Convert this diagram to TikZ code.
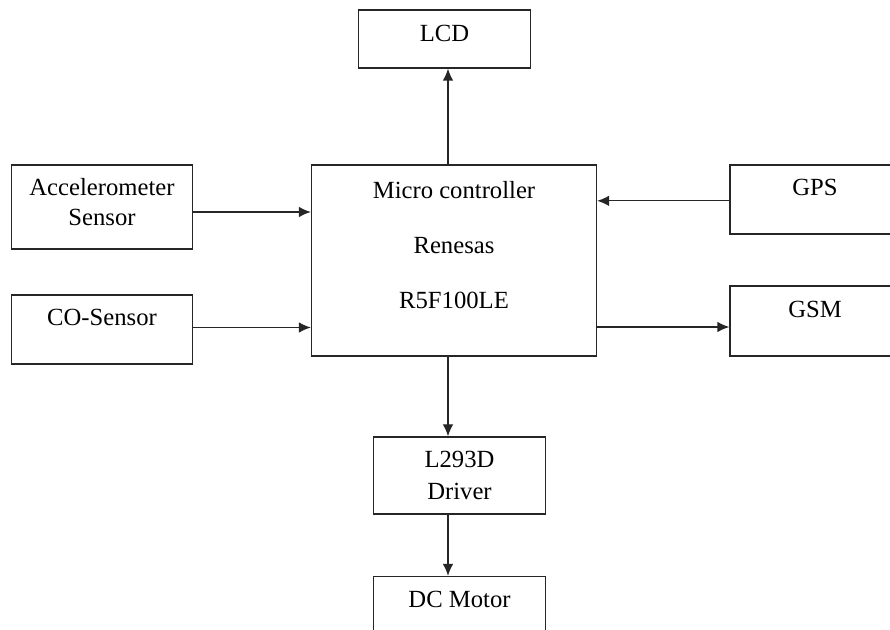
\documentclass[tikz,border=0pt]{standalone}
\usepackage{fontspec}
\setmainfont{Liberation Serif}
\usetikzlibrary{arrows.meta}

\tikzset{
  block/.style = {draw=black!85, line width=1pt, inner sep=0pt, align=center},
  topline/.style = {text depth=18pt},
  arr/.style = {line width=1pt, draw=black!85, -{Latex[length=9pt,width=8pt]}}
}

\begin{document}
\begin{tikzpicture}[x=0.75pt, y=-0.75pt, font=\fontsize{18.5}{22.5}\selectfont]

\clip (0,0) rectangle (890,630);

% blocks
\node[block, minimum width=129pt, minimum height=43.5pt, text depth=9pt] (lcd) at (444.5,39) {LCD};
\node[block, minimum width=213.75pt, minimum height=143.25pt, text depth=23pt] (mc) at (454,260.5)
  {Micro controller\\[18.75pt]Renesas\\[18.75pt]R5F100LE};
\node[block, minimum width=135.4pt, minimum height=63pt, text depth=7.5pt] (acc) at (102,207)
  {Accelerometer\\Sensor};
\node[block, topline, minimum width=135.4pt, minimum height=51.75pt] (cos) at (102,329.5) {CO-Sensor};
% right hand blocks run past the edge of the picture
\node[block, topline, minimum width=157.5pt, minimum height=51.75pt] (gps) at (835,199.5) {GPS\hspace*{30pt}};
\node[block, topline, minimum width=157.5pt, minimum height=52.5pt] (gsm) at (835,321) {GSM\hspace*{30pt}};
\node[block, minimum width=129pt, minimum height=57.75pt] (drv) at (459.5,475.5) {L293D\\[2pt]Driver};
\node[block, topline, minimum width=129pt, minimum height=52.5pt] (dcm) at (459.5,611.5) {DC Motor};

% connections
\draw[arr] (mc.north -| 448,0) -- (lcd.south -| 448,0);
\draw[arr] ([yshift=-3.75pt]acc.east) -- ([yshift=-3.75pt]acc.east -| mc.west);
\draw[arr] ([yshift=1.5pt]cos.east) -- ([yshift=1.5pt]cos.east -| mc.west);
\draw[arr] ([yshift=-1pt]gps.west) -- ([yshift=-1pt]gps.west -| mc.east);
\draw[arr] ([yshift=-4.5pt]mc.east |- gsm.west) -- ([yshift=-4.5pt]gsm.west);
\draw[arr] (mc.south -| 448,0) -- (drv.north -| 448,0);
\draw[arr] (drv.south -| 448,0) -- (dcm.north -| 448,0);

\end{tikzpicture}
\end{document}
